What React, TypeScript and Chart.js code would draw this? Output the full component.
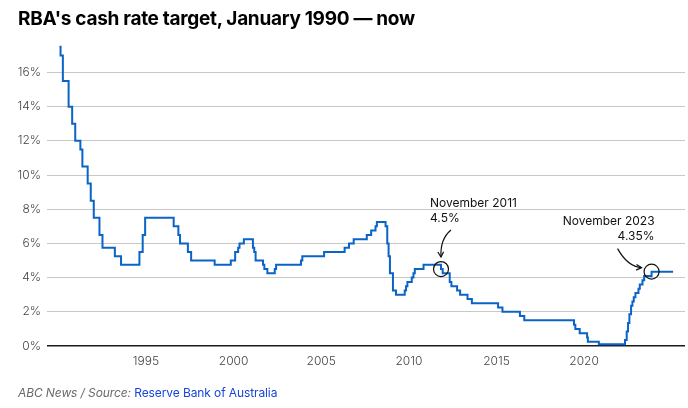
import React, { useEffect, useRef } from "react";
import { Chart, registerables } from "chart.js";

Chart.register(...registerables);

// Dates on which the cash rate target changed, and the new target (per cent)
const changeDates = [
  "1990-01-23", "1990-02-15", "1990-04-04", "1990-08-02", "1990-10-15", "1990-12-18",
  "1991-04-04", "1991-05-16", "1991-09-03", "1991-11-06", "1992-01-08", "1992-05-06",
  "1992-07-08", "1993-03-23", "1993-07-30", "1994-08-17", "1994-10-24", "1994-12-14",
  "1996-07-31", "1996-11-06", "1996-12-11", "1997-05-23", "1997-07-30", "1998-12-02",
  "1999-11-03", "2000-02-02", "2000-04-05", "2000-05-03", "2000-08-02", "2001-02-07",
  "2001-03-07", "2001-04-04", "2001-09-05", "2001-10-03", "2001-12-05", "2002-05-08",
  "2002-06-05", "2003-11-05", "2003-12-03", "2005-03-02", "2006-05-03", "2006-08-02",
  "2006-11-08", "2007-08-08", "2007-11-07", "2008-02-06", "2008-03-05", "2008-09-03",
  "2008-10-08", "2008-11-05", "2008-12-03", "2009-02-04", "2009-04-08", "2009-10-07",
  "2009-11-04", "2009-12-02", "2010-03-03", "2010-04-07", "2010-05-05", "2010-11-03",
  "2011-11-02", "2011-12-07", "2012-05-02", "2012-06-06", "2012-10-03", "2012-12-05",
  "2013-05-08", "2013-08-07", "2015-02-04", "2015-05-06", "2016-05-04", "2016-08-03",
  "2019-06-05", "2019-07-03", "2019-10-02", "2020-03-04", "2020-03-20", "2020-11-04",
  "2022-05-04", "2022-06-08", "2022-07-06", "2022-08-03", "2022-09-07", "2022-10-05",
  "2022-11-02", "2022-12-07", "2023-02-08", "2023-03-08", "2023-05-03", "2023-06-07",
  "2023-11-08", "2025-01-31",
];

const cashRates = [
  17.5, 17.0, 15.5, 14.0, 13.0, 12.0,
  11.5, 10.5, 9.5, 8.5, 7.5, 6.5,
  5.75, 5.25, 4.75, 5.5, 6.5, 7.5,
  7.0, 6.5, 6.0, 5.5, 5.0, 4.75,
  5.0, 5.5, 5.75, 6.0, 6.25, 5.75,
  5.5, 5.0, 4.75, 4.5, 4.25, 4.5,
  4.75, 5.0, 5.25, 5.5, 5.75, 6.0,
  6.25, 6.5, 6.75, 7.0, 7.25, 7.0,
  6.0, 5.25, 4.25, 3.25, 3.0, 3.25,
  3.5, 3.75, 4.0, 4.25, 4.5, 4.75,
  4.5, 4.25, 3.75, 3.5, 3.25, 3.0,
  2.75, 2.5, 2.25, 2.0, 1.75, 1.5,
  1.25, 1.0, 0.75, 0.5, 0.25, 0.1,
  0.35, 0.85, 1.35, 1.85, 2.35, 2.6,
  2.85, 3.1, 3.35, 3.6, 3.85, 4.1,
  4.35, 4.35,
];

const yearTicks = [1995, 2000, 2005, 2010, 2015, 2020];
const rateTicks = [0, 2, 4, 6, 8, 10, 12, 14, 16];

const annotationDates = ["2011-11-02", "2023-11-08"];
const annotationValues = [4.5, 4.35];
const annotationTitles = ["November 2011", "November 2023"];
const annotationLabels = ["4.5%", "4.35%"];

const toYear = (s: string) => {
  const [y, m, d] = s.split("-").map(Number);
  const start = Date.UTC(y, 0, 1);
  const end = Date.UTC(y + 1, 0, 1);
  return y + (Date.UTC(y, m - 1, d) - start) / (end - start);
};

const FONT = "Inter, 'Noto Sans', sans-serif";

const annotationPlugin = {
  id: "rbaAnnotations",
  afterDatasetsDraw(chart: any) {
    const { ctx } = chart;
    const xs = chart.scales.x;
    const ys = chart.scales.y;
    ctx.save();
    ctx.strokeStyle = "#111";
    ctx.fillStyle = "#111";
    ctx.lineWidth = 1.2;
    ctx.font = `400 12px ${FONT}`;
    ctx.textBaseline = "middle";
    annotationDates.forEach((d, i) => {
      const cx = xs.getPixelForValue(toYear(d));
      const cy = ys.getPixelForValue(annotationValues[i]);
      ctx.beginPath();
      ctx.arc(cx, cy, 7.5, 0, Math.PI * 2);
      ctx.stroke();
      let sx, sy, qx, qy, ex, ey;
      if (i === 0) {
        ctx.textAlign = "left";
        ctx.fillText(annotationTitles[i], cx - 11, cy - 66);
        ctx.fillText(annotationLabels[i], cx - 11, cy - 51);
        sx = cx + 10; sy = cy - 39; qx = cx - 1; qy = cy - 30; ex = cx; ey = cy - 12;
      } else {
        ctx.textAlign = "right";
        ctx.fillText(annotationTitles[i], cx + 3, cy - 50);
        ctx.fillText(annotationLabels[i], cx + 3, cy - 35);
        sx = cx - 34; sy = cy - 23; qx = cx - 24; qy = cy - 5; ex = cx - 10; ey = cy - 4;
      }
      ctx.beginPath();
      ctx.moveTo(sx, sy);
      ctx.quadraticCurveTo(qx, qy, ex, ey);
      ctx.stroke();
      const ang = Math.atan2(ey - qy, ex - qx);
      const L = 6;
      ctx.beginPath();
      ctx.moveTo(ex - L * Math.cos(ang - 0.5), ey - L * Math.sin(ang - 0.5));
      ctx.lineTo(ex, ey);
      ctx.lineTo(ex - L * Math.cos(ang + 0.5), ey - L * Math.sin(ang + 0.5));
      ctx.stroke();
    });
    ctx.restore();
  },
};

export default function App() {
  const ref = useRef<HTMLCanvasElement | null>(null);

  useEffect(() => {
    if (!ref.current) return;
    const points = changeDates.map((d, i) => ({ x: toYear(d), y: cashRates[i] }));
    const chart = new Chart(ref.current, {
      type: "line",
      data: {
        datasets: [
          {
            data: points,
            borderColor: "#0a63c6",
            borderWidth: 2,
            pointRadius: 0,
            stepped: "before",
            fill: false,
          },
        ],
      },
      options: {
        animation: false,
        responsive: false,
        devicePixelRatio: 1,
        layout: { padding: { top: 40, right: 3, left: 0, bottom: 0 } },
        plugins: { legend: { display: false }, tooltip: { enabled: false } },
        scales: {
          x: {
            type: "linear",
            min: 1989.35,
            max: 2025.76,
            grid: { display: false, drawTicks: false },
            border: { display: false },
            afterBuildTicks: (s: any) => {
              s.ticks = yearTicks.map((v) => ({ value: v }));
            },
            afterFit: (s: any) => {
              s.height = 62;
            },
            ticks: {
              color: "#444",
              font: { family: FONT, size: 12, weight: "300" },
              padding: 8,
              maxRotation: 0,
              autoSkip: false,
              callback: (v: any) => String(v),
            },
          },
          y: {
            type: "linear",
            min: 0,
            max: 17.9,
            afterBuildTicks: (s: any) => {
              s.ticks = rateTicks.map((v) => ({ value: v }));
            },
            afterFit: (s: any) => {
              s.width = 47;
            },
            grid: {
              drawTicks: false,
              color: (c: any) => (c.tick && c.tick.value === 0 ? "#1a1a1a" : "#c8c8c8"),
              lineWidth: (c: any) => (c.tick && c.tick.value === 0 ? 1.5 : 1),
            },
            border: { display: false },
            ticks: {
              color: "#444",
              font: { family: FONT, size: 12, weight: "300" },
              padding: 6,
              callback: (v: any) => `${v}%`,
            },
          },
        },
      },
      plugins: [annotationPlugin],
    } as any);
    return () => chart.destroy();
  }, []);

  return (
    <div style={{ position: "fixed", left: 0, top: 0, width: 688, height: 408, background: "#fff", overflow: "hidden" }}>
      <canvas ref={ref} width={688} height={408} style={{ position: "absolute", left: 0, top: 0, width: 688, height: 408 }} />
      <div
        style={{
          position: "absolute",
          left: 18,
          top: 7,
          fontFamily: FONT,
          fontWeight: 700,
          fontSize: 19,
          lineHeight: "24px",
          letterSpacing: "-0.3px",
          color: "#000",
          whiteSpace: "nowrap",
        }}
      >
        RBA's cash rate target, January 1990 — now
      </div>
      <div
        style={{
          position: "absolute",
          left: 18,
          top: 385,
          fontFamily: FONT,
          fontSize: 12,
          lineHeight: "16px",
          letterSpacing: "-0.1px",
          whiteSpace: "nowrap",
        }}
      >
        <span style={{ fontStyle: "italic", color: "#6a6a6a" }}>ABC News / Source: </span>
        <span style={{ color: "#1646d8" }}>Reserve Bank of Australia</span>
      </div>
    </div>
  );
}
